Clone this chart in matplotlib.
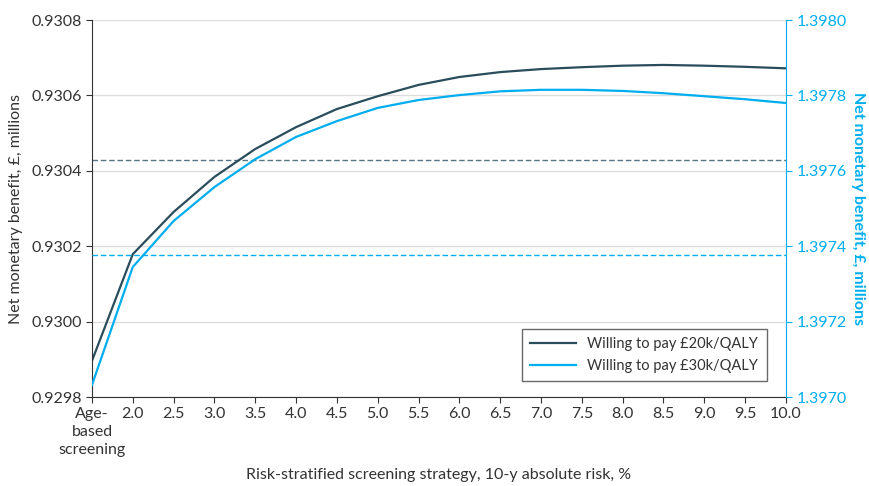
import matplotlib
matplotlib.use("Agg")
import matplotlib.pyplot as plt

plt.rcParams['font.family'] = ['Lato', 'DejaVu Sans']

# data (x = 1.5 is age-based screening)
risk = [1.5, 2.0, 2.5, 3.0, 3.5, 4.0, 4.5, 5.0, 5.5, 6.0, 6.5, 7.0, 7.5, 8.0, 8.5, 9.0, 9.5, 10.0]
nmb_20k = [0.929896, 0.930179, 0.930291, 0.930384, 0.930458, 0.930516, 0.930564, 0.930598, 0.930628,
           0.930649, 0.930662, 0.930670, 0.930675, 0.930679, 0.930681, 0.930679, 0.930676, 0.930672]
nmb_30k = [1.397032, 1.397345, 1.397467, 1.397557, 1.397631, 1.397690, 1.397732, 1.397767, 1.397788,
           1.397801, 1.397811, 1.397815, 1.397815, 1.397812, 1.397806, 1.397798, 1.397790, 1.397780]
age_20k = 0.930429
age_30k = 1.397377
xtick_labels = ["Age-\nbased\nscreening", "2.0", "2.5", "3.0", "3.5", "4.0", "4.5", "5.0", "5.5",
                "6.0", "6.5", "7.0", "7.5", "8.0", "8.5", "9.0", "9.5", "10.0"]

dark = "#2a4d5c"
blue = "#00aeef"
txt = "#333333"

fig = plt.figure(figsize=(8.7, 4.86), dpi=100)
ax = fig.add_axes([0.1057, 0.183, 0.7977, 0.7757])
ax2 = ax.twinx()

ax.set_xlim(1.5, 10.0)
ax.set_ylim(0.9298, 0.9308)
ax2.set_ylim(1.3970, 1.3980)

yt = [0.9298, 0.9300, 0.9302, 0.9304, 0.9306, 0.9308]
ax.set_yticks(yt)
ax.set_yticklabels([f"{v:.4f}" for v in yt])
yt2 = [1.3970, 1.3972, 1.3974, 1.3976, 1.3978, 1.3980]
ax2.set_yticks(yt2)
ax2.set_yticklabels([f"{v:.4f}" for v in yt2])
ax.set_xticks(risk)
ax.set_xticklabels(xtick_labels, linespacing=1.35)

ax.grid(axis='y', color="#dddddd", linewidth=1)
ax.set_axisbelow(True)

ax.axhline(age_20k, color="#557582", linestyle=(0, (4, 2)), linewidth=1)
ax2.axhline(age_30k, color=blue, linestyle=(0, (4, 2)), linewidth=1)

l1, = ax.plot(risk, nmb_20k, color=dark, linewidth=1.6, label="Willing to pay £20k/QALY")
l2, = ax2.plot(risk, nmb_30k, color=blue, linewidth=1.6, label="Willing to pay £30k/QALY")

for a in (ax, ax2):
    a.spines['top'].set_visible(False)
ax.spines['right'].set_visible(False)
ax.spines['left'].set_color(txt)
ax.spines['bottom'].set_color(txt)
ax2.spines['left'].set_visible(False)
ax2.spines['bottom'].set_visible(False)
ax2.spines['right'].set_color(blue)

ax.tick_params(axis='both', colors=txt, labelsize=11.5, length=4, labelcolor=txt)
ax2.tick_params(axis='y', colors=blue, labelsize=11.5, length=4, labelcolor=blue)

ax.set_ylabel("Net monetary benefit, £, millions", fontsize=11.5, color=txt, labelpad=6)
ax2.set_ylabel("Net monetary benefit, £, millions", fontsize=11.5, color=blue, rotation=270,
               labelpad=13, fontweight='bold')
ax.set_xlabel("Risk-stratified screening strategy, 10-y absolute risk, %", fontsize=11.5, color=txt, labelpad=8)

leg = ax.legend(handles=[l1, l2], loc="lower right", bbox_to_anchor=(0.983, 0.022), fontsize=10.5,
                frameon=True, fancybox=False, edgecolor="#444444", handlelength=3.1,
                labelspacing=0.5, borderpad=0.6)
leg.get_frame().set_linewidth(1)
for t in leg.get_texts():
    t.set_color(txt)

fig.savefig("out.png", dpi=100)
